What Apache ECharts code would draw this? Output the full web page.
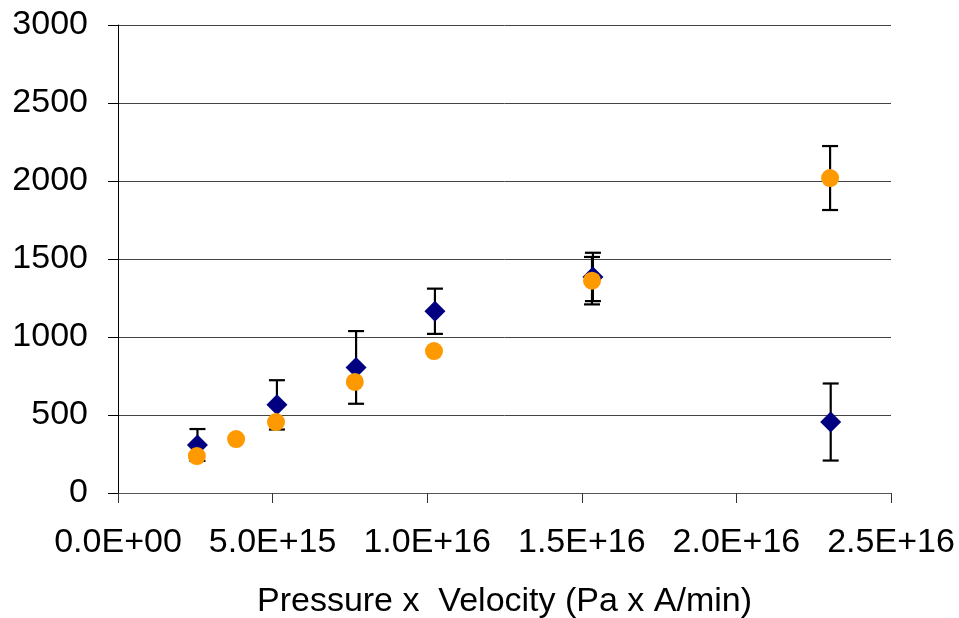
<!DOCTYPE html>
<html>
<head>
<meta charset="utf-8">
<script src="https://cdn.jsdelivr.net/npm/echarts@6/dist/echarts.min.js"></script>
<style>
html,body{margin:0;padding:0;background:#fff;}
#chart{width:959px;height:618px;}
</style>
</head>
<body>
<div id="chart"></div>
<script>
// Series A (navy diamonds): x, y, error
var diamondX = [2.57e15, 5.14e15, 7.7e15, 1.025e16, 1.536e16, 2.305e16];
var diamondY = [308, 565, 805, 1165, 1385, 455];
var diamondErr = [102, 158, 233, 145, 155, 247];

// Series B (orange circles): x, y, error
var circleX = [2.55e15, 3.82e15, 5.11e15, 7.66e15, 1.022e16, 1.533e16, 2.303e16];
var circleY = [237, 346, 455, 712, 910, 1361, 2019];
var circleErr = [10, 0, 15, 15, 15, 152, 205];

var yTicks = [0, 500, 1000, 1500, 2000, 2500, 3000];
var xTicks = [0, 5e15, 1e16, 1.5e16, 2e16, 2.5e16];
var xTitle = 'Pressure x  Velocity (Pa x A/min)';

function fmtExp(v) {
  if (v === 0) return '0.0E+00';
  var s = Number(v).toExponential(1).split('e');
  var e = parseInt(s[1], 10);
  return s[0] + 'E' + (e < 0 ? '-' : '+') + String(Math.abs(e)).padStart(2, '0');
}

function pts(xs, ys) { return xs.map(function (x, i) { return [x, ys[i]]; }); }
function errs(xs, ys, es) { return xs.map(function (x, i) { return [x, ys[i] - es[i], ys[i] + es[i]]; }); }

function errRender(params, api) {
  var x = api.value(0);
  var lo = api.coord([x, api.value(1)]);
  var hi = api.coord([x, api.value(2)]);
  var hw = 8;
  var st = { stroke: '#000', lineWidth: 2.2 };
  return {
    type: 'group',
    children: [
      { type: 'line', shape: { x1: lo[0], y1: lo[1], x2: hi[0], y2: hi[1] }, style: st },
      { type: 'line', shape: { x1: lo[0] - hw, y1: lo[1], x2: lo[0] + hw, y2: lo[1] }, style: st },
      { type: 'line', shape: { x1: hi[0] - hw, y1: hi[1], x2: hi[0] + hw, y2: hi[1] }, style: st }
    ]
  };
}

var font = 'Liberation Sans, Arial, sans-serif';
var chart = echarts.init(document.getElementById('chart'));
chart.setOption({
  animation: false,
  backgroundColor: '#fff',
  grid: { left: 118, right: 68, top: 25, bottom: 125, outerBoundsMode: 'none', containLabel: false },
  xAxis: {
    type: 'value',
    min: xTicks[0], max: xTicks[xTicks.length - 1], interval: xTicks[1] - xTicks[0],
    name: xTitle, nameLocation: 'middle', nameGap: 92,
    nameTextStyle: { fontFamily: font, fontSize: 34, color: '#000' },
    axisLine: { show: true, lineStyle: { color: '#555', width: 1 } },
    axisTick: { show: true, length: 10, lineStyle: { color: '#333', width: 1 } },
    axisLabel: { formatter: fmtExp, margin: 33, fontFamily: font, fontSize: 34, color: '#000', showMaxLabel: true, showMinLabel: true },
    splitLine: { show: false }
  },
  yAxis: {
    type: 'value',
    min: yTicks[0], max: yTicks[yTicks.length - 1], interval: yTicks[1] - yTicks[0],
    axisLine: { show: true, lineStyle: { color: '#000', width: 1 } },
    axisTick: { show: true, length: 10, lineStyle: { color: '#000', width: 1 } },
    axisLabel: { formatter: function (v) { return String(v); }, margin: 30, fontFamily: font, fontSize: 34, color: '#000' },
    splitLine: { show: true, lineStyle: { color: '#444', width: 1 } }
  },
  series: [
    { type: 'custom', z: 1, renderItem: errRender, data: errs(diamondX, diamondY, diamondErr), encode: { x: 0, y: [1, 2] } },
    { type: 'custom', z: 1, renderItem: errRender, data: errs(circleX, circleY, circleErr), encode: { x: 0, y: [1, 2] } },
    { type: 'scatter', z: 3, symbol: 'diamond', symbolSize: 21, itemStyle: { color: '#000080', opacity: 1 }, data: pts(diamondX, diamondY) },
    { type: 'scatter', z: 4, symbol: 'circle', symbolSize: 18, itemStyle: { color: '#FF9900', opacity: 1 }, data: pts(circleX, circleY) }
  ]
});
</script>
</body>
</html>
